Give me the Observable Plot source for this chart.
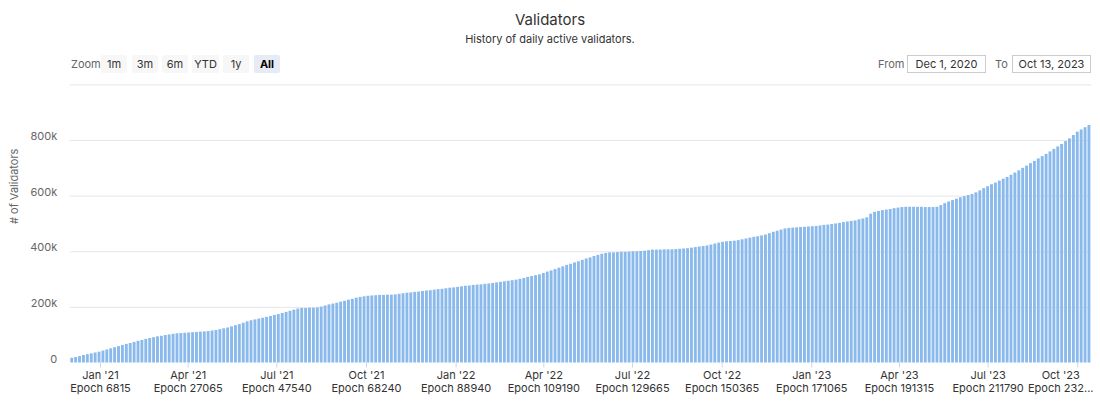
<!DOCTYPE html>
<html><head><meta charset="utf-8">
<script src="https://cdn.jsdelivr.net/npm/d3@7"></script>
<script src="https://cdn.jsdelivr.net/npm/@observablehq/plot@0.6"></script>
<style>
body{margin:0;background:#fff;font-family:Inter,"Noto Sans",sans-serif;}
#head{position:relative;width:1100px;height:78px;}
#head div{position:absolute;white-space:nowrap;}
.title{left:0;width:1100px;text-align:center;top:10px;font-size:15px;line-height:20px;color:#333;}
.sub{left:0;width:1100px;text-align:center;top:32px;font-size:11px;line-height:14px;color:#333;}
.lbl{top:55px;height:18px;line-height:18px;font-size:11px;color:#666;}
.btn{top:55px;height:18px;line-height:18px;width:26px;text-align:center;font-size:11px;color:#333;background:#f7f7f7;border-radius:2px;}
.btn.sel{background:#e6ebf5;color:#000;font-weight:bold;}
.box{top:55px;height:16px;line-height:16px;width:77px;text-align:center;font-size:11px;color:#333;border:1px solid #ccc;}
#chart svg{display:block;}
</style></head><body>
<div id="head">
  <div class="title">Validators</div>
  <div class="sub">History of daily active validators.</div>
  <div class="lbl" style="left:71px">Zoom</div>
  <div class="btn" style="left:101px">1m</div>
  <div class="btn" style="left:132px">3m</div>
  <div class="btn" style="left:162px">6m</div>
  <div class="btn" style="left:192px;width:27px">YTD</div>
  <div class="btn" style="left:223px">1y</div>
  <div class="btn sel" style="left:254px">All</div>
  <div class="lbl" style="left:878px">From</div>
  <div class="box" style="left:907px">Dec 1, 2020</div>
  <div class="lbl" style="left:995px">To</div>
  <div class="box" style="left:1012px">Oct 13, 2023</div>
</div>
<div id="chart"></div>
<script>
// First day of the series and grouping interval (days per bar)
const startDate = "2020-12-01";
const groupDays = 4;
// Active validators (thousands), one value per 4-day group
const validatorsK = [
  17,20,23,27,30,33,36,39,43,47,
  51,55,59,63,67,70,74,78,81,85,
  88,91,94,96,99,101,103,105,106,107,
  108,109,110,111,112,113,115,117,120,123,
  126,130,134,138,143,148,152,155,158,161,
  164,167,171,174,178,182,186,190,194,196,
  196,197,197,198,201,205,209,212,215,219,
  222,226,229,233,236,238,240,241,242,243,
  243,244,244,245,247,249,251,252,254,255,
  257,259,260,262,264,265,267,269,270,272,
  274,276,277,279,280,281,283,284,286,288,
  290,292,294,296,298,301,304,308,311,314,
  317,322,327,331,336,341,346,351,355,360,
  364,369,374,378,383,387,391,394,396,396,
  397,398,398,399,400,400,401,402,404,406,
  406,406,407,407,407,408,409,410,411,413,
  415,417,419,421,424,428,431,434,436,437,
  438,440,443,446,449,452,454,457,460,465,
  470,474,478,482,484,485,486,487,488,489,
  490,491,493,495,496,498,500,502,505,507,
  509,511,515,518,522,535,542,545,548,550,
  552,555,557,559,560,560,560,560,560,559,
  559,559,560,566,573,579,584,589,594,598,
  602,606,612,619,627,634,641,647,654,661,
  667,675,683,691,700,708,717,725,734,742,
  750,759,768,777,786,796,806,818,830,838,
  846,854
];
// X axis ticks
const tickDates = ["2021-01-01","2021-04-01","2021-07-01","2021-10-01","2022-01-01","2022-04-01","2022-07-01","2022-10-01","2023-01-01","2023-04-01","2023-07-01","2023-10-01"];
const tickMonths = ["Jan '21","Apr '21","Jul '21","Oct '21","Jan '22","Apr '22","Jul '22","Oct '22","Jan '23","Apr '23","Jul '23","Oct '23"];
const tickEpochs = ["6815","27065","47540","68240","88940","109190","129665","150365","171065","191315","211790","232..."];
// Y axis ticks (thousands)
const yTicks = [0,200,400,600,800];
const yTickLabels = ["0","200k","400k","600k","800k"];
const gridValues = [200,400,600,800,1000];

const DAY = 864e5;
const t0 = new Date(startDate + "T00:00:00Z").getTime();
const data = validatorsK.map((v,i) => ({
  start: new Date(t0 + i*groupDays*DAY),
  end: new Date(t0 + (i+1)*groupDays*DAY),
  v
}));
const tickRows = tickDates.map((s,i) => ({date: new Date(s + "T00:00:00Z"), label: tickMonths[i] + "\nEpoch " + tickEpochs[i]}));
const ticks = tickRows.map(d => d.date);
const lastTick = tickRows.length - 1;

const labelOpts = {x: "date", text: "label", frameAnchor: "bottom", lineAnchor: "top", dy: 7, lineHeight: 1.18, fill: "#333"};

const chart = Plot.plot({
  width: 1100, height: 323,
  marginLeft: 69.8, marginRight: 9.1, marginTop: 6.4, marginBottom: 38.5,
  style: {fontFamily: "Inter, 'Noto Sans', sans-serif", fontSize: "11px", background: "#fff"},
  x: {type: "utc", domain: [new Date("2020-12-01T00:00:00Z"), new Date("2023-10-15T00:00:00Z")]},
  y: {domain: [0, 1000], axis: null},
  marks: [
    Plot.ruleY(gridValues, {stroke: "#e6e6e6"}),
    Plot.rectY(data, {x1: "start", x2: "end", y: "v", fill: "#8ab9ec", insetLeft: 0.5, insetRight: 0.5}),
    Plot.axisX({ticks, tickSize: 5, tickFormat: () => "", stroke: "#ccd6eb"}),
    Plot.text(tickRows.slice(0, lastTick), labelOpts),
    Plot.text(tickRows.slice(lastTick), {...labelOpts, dx: -17}),
    Plot.text(yTicks, {y: d => d, text: (d,i) => yTickLabels[i], frameAnchor: "left",
      textAnchor: "end", dx: -13, dy: -4, fill: "#666"}),
    Plot.text(["# of Validators"], {text: d => d, frameAnchor: "left", rotate: -90, dx: -56, fill: "#666"})
  ]
});
document.getElementById("chart").appendChild(chart);
</script>
</body></html>
